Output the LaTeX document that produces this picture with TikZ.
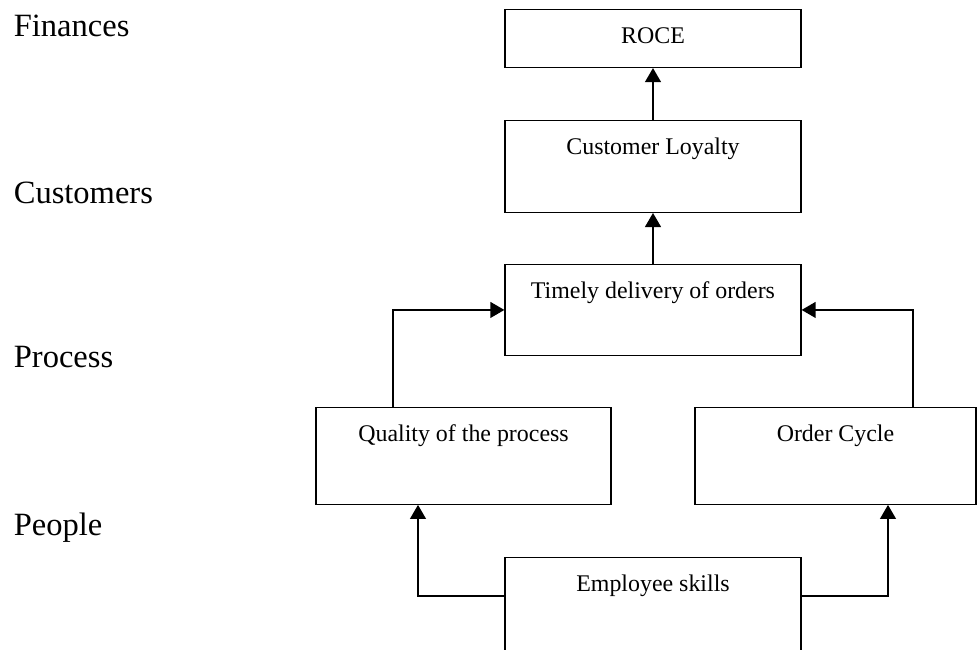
\documentclass[tikz,border=0pt]{standalone}
\usepackage{fontspec}
\setmainfont{Liberation Serif}
\usetikzlibrary{arrows.meta}
\tikzset{
	box/.style={draw, line width=0.7pt, anchor=north, inner xsep=0pt, inner ysep=0pt,
		minimum width=5.92cm, text height=19.3pt, font=\fontsize{13.6}{16}\selectfont},
	lvl/.style={anchor=base west, inner sep=0pt, font=\fontsize{18.5}{22}\selectfont},
	arr/.style={line width=1pt, -{Triangle[length=8pt,width=9pt]}}
}

\begin{document}
\begin{tikzpicture}
			\clip (0,0) rectangle (19.56,-13);

			\node[lvl] (fin) at (0.27,-0.74) {Finances};
			\node[lvl] (cus) at (0.27,-4.08) {Customers};
			\node[lvl] (pro) at (0.27,-7.36) {Process};
			\node[lvl] (peo) at (0.27,-10.72) {People};

			\node[box, text depth=13.6pt] (roce) at (13.06,-0.18) {ROCE};
			\node[box, text depth=32.9pt] (loyalty) at (13.06,-2.40) {Customer Loyalty};
			\node[box, text depth=32.3pt] (timely) at (13.06,-5.28) {Timely delivery of orders};
			\node[box, text depth=35.7pt, minimum width=5.9cm] (quality) at (9.27,-8.14) {Quality of the process};
			\node[box, text depth=35.7pt, minimum width=5.62cm] (order) at (16.71,-8.14) {Order Cycle};
			\node[box, text depth=42pt] (skills) at (13.06,-11.14) {Employee skills};

			\coordinate (qup) at (7.86,-7);
			\coordinate (oup) at (18.26,-7);
			\coordinate (skl) at (8.36,-11.92);
			\coordinate (skr) at (17.76,-11.92);

			\draw[arr] (loyalty.north) -- (roce.south);
			\draw[arr] (timely.north) -- (loyalty.south);
			\draw[arr] (quality.north -| qup) |- (timely.west);
			\draw[arr] (order.north -| oup) |- (timely.east);
			\draw[arr] (skills.west |- skl) -| (quality.south -| skl);
			\draw[arr] (skills.east |- skr) -| (order.south -| skr);

		\end{tikzpicture}
\end{document}
